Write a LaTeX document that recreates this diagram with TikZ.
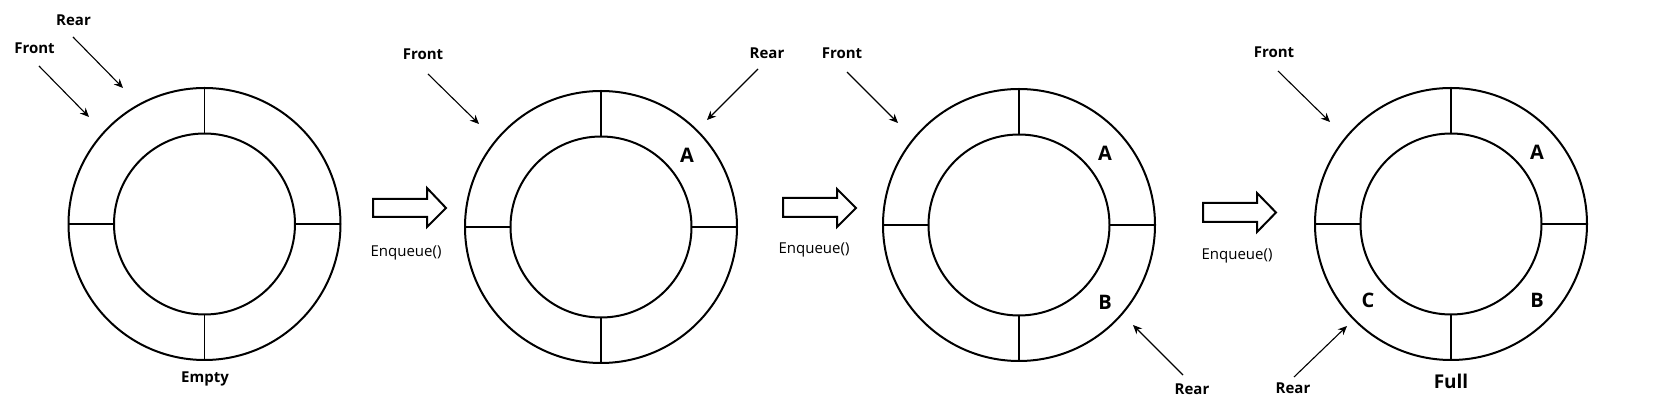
\documentclass[tikz,border=0pt]{standalone}
\usepackage{fontspec}
\setmainfont{Open Sans}
\usetikzlibrary{arrows.meta}
\tikzset{
  ring/.style={circle, draw, line width=1pt, inner sep=0pt, outer sep=0pt, minimum size=136pt},
  hole/.style={circle, draw, line width=1pt, inner sep=0pt, outer sep=0pt, minimum size=90.5pt},
  spoke/.style={line width=0.6pt},
  ptr/.style={line width=0.55pt, -{Stealth[length=4.5pt,width=4pt]}},
  lbl/.style={font=\bfseries\fontsize{7.5}{9}\selectfont, inner sep=0pt},
  slot/.style={font=\bfseries\fontsize{10}{12}\selectfont, inner sep=0pt},
  state/.style={font=\bfseries\fontsize{9.5}{11}\selectfont, inner sep=0pt},
  opname/.style={font=\fontsize{7.5}{9}\selectfont, inner sep=0pt},
  blockarrow/.style={draw, line width=1pt, fill=white, line join=miter}
}
\newcommand{\ringpair}[3]{%
  \node[ring] (o#1) at (#2,#3) {};
  \node[hole] (i#1) at (#2,#3) {};
  \draw[spoke] (o#1.north) -- (i#1.north);
  \draw[spoke] (o#1.south) -- (i#1.south);
  \draw[spoke] (o#1.east) -- (i#1.east);
  \draw[spoke] (o#1.west) -- (i#1.west);
}
\begin{document}
\begin{tikzpicture}[x=0.5pt, y=-0.5pt]
\useasboundingbox[fill=white] (0,0) rectangle (1667,405);

% rings
\ringpair{1}{204.5}{224}
\ringpair{2}{601}{227}
\ringpair{3}{1019}{225}
\ringpair{4}{1451}{224}

% block arrows
\draw[blockarrow] (373,199) -- (427,199) -- (427,188) -- (446,208) -- (427,227) -- (427,217) -- (373,217) -- cycle;
\draw[blockarrow] (783,198) -- (837,198) -- (837,189) -- (856,208) -- (837,227) -- (837,217) -- (783,217) -- cycle;
\draw[blockarrow] (1203,203) -- (1257,203) -- (1257,193) -- (1276,212.5) -- (1257,232) -- (1257,222) -- (1203,222) -- cycle;
\node[opname] (e1) at (406,253) {Enqueue()};
\node[opname] (e2) at (814,250) {Enqueue()};
\node[opname] (e3) at (1237,256) {Enqueue()};

% ---- state 1
\node[lbl] (f1) at (34.5,48) {Front};
\node[lbl] (r1) at (73.5,20) {Rear};
\node[state, font=\bfseries\fontsize{7.5}{9}\selectfont] (s1) at (205,379) {Empty};
\coordinate (f1s) at (39,66);  \coordinate (f1t) at (89,117);
\coordinate (r1s) at (73,37);  \coordinate (r1t) at (123,88);
\draw[ptr] (f1s) -- (f1t);
\draw[ptr] (r1s) -- (r1t);

% ---- state 2
\node[lbl] (f2) at (423,54) {Front};
\node[lbl] (r2) at (767,53) {Rear};
\node[slot] (a2) at (687,155) {A};
\coordinate (f2s) at (428,74);  \coordinate (f2t) at (479,124);
\coordinate (r2s) at (758,69);  \coordinate (r2t) at (707,120);
\draw[ptr] (f2s) -- (f2t);
\draw[ptr] (r2s) -- (r2t);

% ---- state 3
\node[lbl] (f3) at (842,53) {Front};
\node[lbl] (r3) at (1192,389) {Rear};
\node[slot] (a3) at (1105,153) {A};
\node[slot] (b3) at (1105,302) {B};
\coordinate (f3s) at (847,72);   \coordinate (f3t) at (898,123);
\coordinate (r3s) at (1183,375); \coordinate (r3t) at (1133,325);
\draw[ptr] (f3s) -- (f3t);
\draw[ptr] (r3s) -- (r3t);

% ---- state 4
\node[lbl] (f4) at (1274,52) {Front};
\node[lbl] (r4) at (1293,388) {Rear};
\node[slot] (a4) at (1537,152) {A};
\node[slot] (b4) at (1537,300) {B};
\node[slot] (c4) at (1368,300) {C};
\node[state] (s4) at (1451,381) {Full};
\coordinate (f4s) at (1278,71);  \coordinate (f4t) at (1330,122);
\coordinate (r4s) at (1294,377); \coordinate (r4t) at (1347,326);
\draw[ptr] (f4s) -- (f4t);
\draw[ptr] (r4s) -- (r4t);
\end{tikzpicture}
\end{document}
